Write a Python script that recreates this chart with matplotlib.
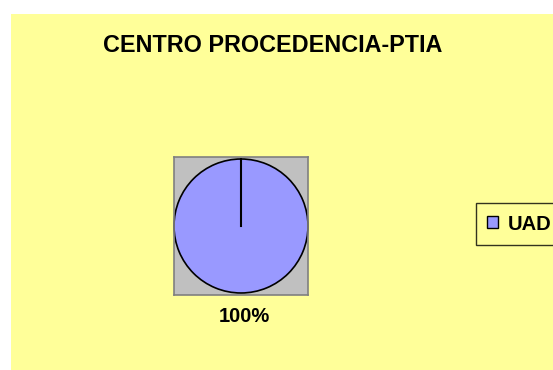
import numpy as np
import matplotlib.pyplot as plt
from matplotlib.patches import Rectangle

categorias = ["UAD"]
valores = [100]
etiquetas = ["100%"]

W, H = 553, 370
fig = plt.figure(figsize=(W / 100, H / 100), dpi=100)
fig.patch.set_facecolor("white")

# fondo amarillo del area del grafico
fig.patches.append(Rectangle((11 / W, 0), 1 - 11 / W, 1 - 14 / H, transform=fig.transFigure,
                             facecolor="#FFFF99", edgecolor="none", zorder=-5))

fig.text(273 / W, 1 - 46 / H, "CENTRO PROCEDENCIA-PTIA", ha="center", va="center",
         fontsize=16.8, fontweight="bold", family="Liberation Sans")

# area de trazado gris
ax = fig.add_axes([174 / W, 1 - 295 / H, 134 / W, 138 / H])
ax.set_zorder(2)

wedges, _ = ax.pie(valores, colors=["#9999FF"], startangle=90, counterclock=False,
                   wedgeprops=dict(edgecolor="black", linewidth=1.2), radius=1.0, frame=True)
# linea radial del sector unico
ang = np.deg2rad(90)
ax.plot([0, np.cos(ang)], [0, np.sin(ang)], color="black", linewidth=1.5)
ax.set_xlim(-1.0, 1.0)
ax.set_ylim(-1.03, 1.03)
ax.set_aspect("auto")
ax.set_xticks([])
ax.set_yticks([])
ax.set_facecolor("#C0C0C0")
for s in ax.spines.values():
    s.set_visible(True)
    s.set_color("#808080")
    s.set_linewidth(1.2)

fig.text(244 / W, 1 - 316 / H, etiquetas[0], ha="center", va="center", fontsize=14.5,
         fontweight="bold", family="Liberation Sans")

leg = fig.legend(wedges, categorias, loc="center left", bbox_to_anchor=(476 / W, 1 - 224 / H),
                 frameon=True, fancybox=False, edgecolor="black", facecolor="#FFFF99",
                 prop=dict(family="Liberation Sans", weight="bold", size=14.5),
                 handlelength=0.55, handleheight=0.55, handletextpad=0.5, borderpad=0.55,
                 borderaxespad=0)
leg.get_frame().set_linewidth(1.0)
leg.legend_handles[0].set_linewidth(1.0)

fig.savefig("out.png", dpi=100, facecolor=fig.get_facecolor())
